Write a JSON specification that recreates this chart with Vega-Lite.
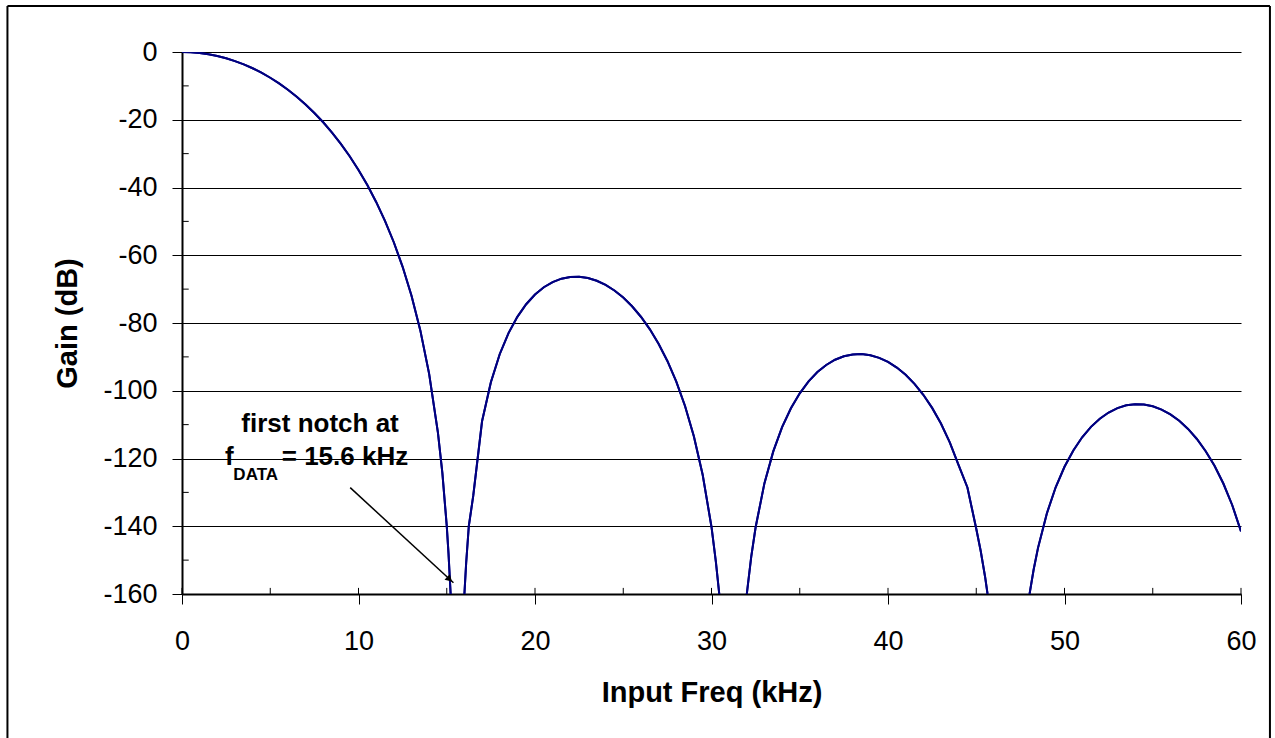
{
  "$schema": "https://vega.github.io/schema/vega-lite/v6.json",
  "width": 1059,
  "height": 542,
  "autosize": {"type": "none"},
  "padding": {"left": 182, "top": 52, "right": 34, "bottom": 144},
  "background": "white",
  "config": {
    "view": {"stroke": null},
    "font": "Liberation Sans",
    "axis": {
      "domainColor": "black",
      "domainWidth": 2,
      "tickColor": "black",
      "tickWidth": 1,
      "tickSize": 10,
      "labelColor": "black",
      "labelFont": "Liberation Sans",
      "labelFontSize": 27,
      "labelFlush": false,
      "labelOverlap": false,
      "labelBound": false,
      "titleFont": "Liberation Sans",
      "titleFontWeight": "bold",
      "titleFontSize": 29,
      "titleColor": "black"
    }
  },
  "datasets": {
    "curve": [
      {"lobe": 1, "f": 0, "g": 0}, {"lobe": 1, "f": 0.5, "g": -0.07}, {"lobe": 1, "f": 1, "g": -0.29}, {"lobe": 1, "f": 1.5, "g": -0.66},
      {"lobe": 1, "f": 2, "g": -1.18}, {"lobe": 1, "f": 2.5, "g": -1.85}, {"lobe": 1, "f": 3, "g": -2.68}, {"lobe": 1, "f": 3.5, "g": -3.66},
      {"lobe": 1, "f": 4, "g": -4.8}, {"lobe": 1, "f": 4.5, "g": -6.12}, {"lobe": 1, "f": 5, "g": -7.6}, {"lobe": 1, "f": 5.5, "g": -9.27},
      {"lobe": 1, "f": 6, "g": -11.14}, {"lobe": 1, "f": 6.5, "g": -13.2}, {"lobe": 1, "f": 7, "g": -15.48}, {"lobe": 1, "f": 7.5, "g": -17.99},
      {"lobe": 1, "f": 8, "g": -20.75}, {"lobe": 1, "f": 8.5, "g": -23.78}, {"lobe": 1, "f": 9, "g": -27.11}, {"lobe": 1, "f": 9.5, "g": -30.77},
      {"lobe": 1, "f": 10, "g": -34.81}, {"lobe": 1, "f": 10.5, "g": -39.28}, {"lobe": 1, "f": 11, "g": -44.26}, {"lobe": 1, "f": 11.5, "g": -49.84},
      {"lobe": 1, "f": 12, "g": -56.16}, {"lobe": 1, "f": 12.5, "g": -63.41}, {"lobe": 1, "f": 13, "g": -71.9}, {"lobe": 1, "f": 13.5, "g": -82.11},
      {"lobe": 1, "f": 14, "g": -94.95}, {"lobe": 1, "f": 14.5, "g": -112.35}, {"lobe": 1, "f": 14.75, "g": -124.15}, {"lobe": 1, "f": 15, "g": -139.9},
      {"lobe": 1, "f": 15.1, "g": -148.07}, {"lobe": 1, "f": 15.22, "g": -160},
      {"lobe": 2, "f": 16.0, "g": -160}, {"lobe": 2, "f": 16.1, "g": -150.86}, {"lobe": 2, "f": 16.25, "g": -139.93}, {"lobe": 2, "f": 16.5, "g": -131.06},
      {"lobe": 2, "f": 17, "g": -109.01}, {"lobe": 2, "f": 17.5, "g": -97.5}, {"lobe": 2, "f": 18, "g": -89.22}, {"lobe": 2, "f": 18.5, "g": -82.99},
      {"lobe": 2, "f": 19, "g": -78.18}, {"lobe": 2, "f": 19.5, "g": -74.46}, {"lobe": 2, "f": 20, "g": -71.6}, {"lobe": 2, "f": 20.5, "g": -69.45},
      {"lobe": 2, "f": 21, "g": -67.91}, {"lobe": 2, "f": 21.5, "g": -66.91}, {"lobe": 2, "f": 22, "g": -66.39}, {"lobe": 2, "f": 22.5, "g": -66.34},
      {"lobe": 2, "f": 23, "g": -66.72}, {"lobe": 2, "f": 23.5, "g": -67.52}, {"lobe": 2, "f": 24, "g": -68.74}, {"lobe": 2, "f": 24.5, "g": -70.39},
      {"lobe": 2, "f": 25, "g": -72.49}, {"lobe": 2, "f": 25.5, "g": -75.06}, {"lobe": 2, "f": 26, "g": -78.15}, {"lobe": 2, "f": 26.5, "g": -81.8},
      {"lobe": 2, "f": 27, "g": -86.12}, {"lobe": 2, "f": 27.5, "g": -91.21}, {"lobe": 2, "f": 28, "g": -97.25}, {"lobe": 2, "f": 28.5, "g": -104.51},
      {"lobe": 2, "f": 29, "g": -113.43}, {"lobe": 2, "f": 29.5, "g": -124.79}, {"lobe": 2, "f": 30, "g": -140.22}, {"lobe": 2, "f": 30.25, "g": -150.57},
      {"lobe": 2, "f": 30.44, "g": -160},
      {"lobe": 3, "f": 32.0, "g": -160}, {"lobe": 3, "f": 32.25, "g": -149.06}, {"lobe": 3, "f": 32.5, "g": -140.29}, {"lobe": 3, "f": 33, "g": -127.28},
      {"lobe": 3, "f": 33.5, "g": -117.9}, {"lobe": 3, "f": 34, "g": -110.76}, {"lobe": 3, "f": 34.5, "g": -105.18}, {"lobe": 3, "f": 35, "g": -100.75},
      {"lobe": 3, "f": 35.5, "g": -97.25}, {"lobe": 3, "f": 36, "g": -94.49}, {"lobe": 3, "f": 36.5, "g": -92.39}, {"lobe": 3, "f": 37, "g": -90.85},
      {"lobe": 3, "f": 37.5, "g": -89.82}, {"lobe": 3, "f": 38, "g": -89.27}, {"lobe": 3, "f": 38.5, "g": -89.17}, {"lobe": 3, "f": 39, "g": -89.51},
      {"lobe": 3, "f": 39.5, "g": -90.28}, {"lobe": 3, "f": 40, "g": -91.5}, {"lobe": 3, "f": 40.5, "g": -93.16}, {"lobe": 3, "f": 41, "g": -95.3},
      {"lobe": 3, "f": 41.5, "g": -97.96}, {"lobe": 3, "f": 42, "g": -101.19}, {"lobe": 3, "f": 42.5, "g": -105.06}, {"lobe": 3, "f": 43, "g": -109.69},
      {"lobe": 3, "f": 43.5, "g": -115.24}, {"lobe": 3, "f": 44, "g": -121.96}, {"lobe": 3, "f": 44.5, "g": -128.54}, {"lobe": 3, "f": 45, "g": -140.75},
      {"lobe": 3, "f": 45.25, "g": -147.24}, {"lobe": 3, "f": 45.5, "g": -154.9}, {"lobe": 3, "f": 45.64, "g": -160},
      {"lobe": 4, "f": 48.02, "g": -160}, {"lobe": 4, "f": 48.25, "g": -152.83}, {"lobe": 4, "f": 48.5, "g": -146.38}, {"lobe": 4, "f": 49, "g": -136.21},
      {"lobe": 4, "f": 49.5, "g": -128.49}, {"lobe": 4, "f": 50, "g": -122.43}, {"lobe": 4, "f": 50.5, "g": -117.61}, {"lobe": 4, "f": 51, "g": -113.74},
      {"lobe": 4, "f": 51.5, "g": -110.66}, {"lobe": 4, "f": 52, "g": -108.25}, {"lobe": 4, "f": 52.5, "g": -106.42}, {"lobe": 4, "f": 53, "g": -105.13},
      {"lobe": 4, "f": 53.5, "g": -104.31}, {"lobe": 4, "f": 54, "g": -103.96}, {"lobe": 4, "f": 54.5, "g": -104.05}, {"lobe": 4, "f": 55, "g": -104.58},
      {"lobe": 4, "f": 55.5, "g": -105.55}, {"lobe": 4, "f": 56, "g": -106.97}, {"lobe": 4, "f": 56.5, "g": -108.87}, {"lobe": 4, "f": 57, "g": -111.27},
      {"lobe": 4, "f": 57.5, "g": -114.24}, {"lobe": 4, "f": 58, "g": -117.84}, {"lobe": 4, "f": 58.5, "g": -122.17}, {"lobe": 4, "f": 59, "g": -127.38},
      {"lobe": 4, "f": 59.5, "g": -133.72}, {"lobe": 4, "f": 60, "g": -141.5}
    ],
    "xticks": [
      {"f": 0}, {"f": 5}, {"f": 10}, {"f": 15}, {"f": 20}, {"f": 25}, {"f": 30}, {"f": 35}, {"f": 40}, {"f": 45}, {"f": 50}, {"f": 55}, {"f": 60}
    ],
    "yticks": [
      {"g": -10}, {"g": -30}, {"g": -50}, {"g": -70}, {"g": -90}, {"g": -110}, {"g": -130}, {"g": -150}
    ],
    "frameV": [
      {"f": -9.89, "g": 13.58, "g2": -215},
      {"f": 61.64, "g": 13.58, "g2": -215}
    ],
    "frameH": [
      {"f": -9.89, "f2": 61.64, "g": 13.58}
    ],
    "arrow": [
      {"f": 9.53, "g": -128.6, "f2": 15.38, "g2": -156.7}
    ],
    "arrowhead": [
      {"f": 15.16, "g": -155.66}
    ],
    "note1": [
      {"f": 7.82, "g": -112.1, "label": "first notch at"}
    ],
    "note2": [
      {"f": 2.44, "g": -121.9, "label": "f"}
    ],
    "note3": [
      {"f": 2.91, "g": -126.3, "label": "DATA"}
    ],
    "note4": [
      {"f": 5.65, "g": -121.9, "label": "= 15.6 kHz"}
    ]
  },
  "layer": [
    {
      "data": {"name": "curve"},
      "mark": {"type": "line", "color": "#000080", "strokeWidth": 2, "clip": true},
      "encoding": {
        "x": {
          "field": "f", "type": "quantitative", "title": "Input Freq (kHz)",
          "scale": {"domain": [0, 60], "nice": false, "zero": false},
          "axis": {
            "values": [0, 10, 20, 30, 40, 50, 60],
            "labelExpr": "'' + datum.value",
            "grid": false,
            "labelPadding": 24,
            "titleY": 107.5,
            "titleBaseline": "alphabetic"
          }
        },
        "y": {
          "field": "g", "type": "quantitative", "title": "Gain (dB)",
          "scale": {"domain": [-160, 0], "nice": false, "zero": false},
          "axis": {
            "values": [-160, -140, -120, -100, -80, -60, -40, -20, 0],
            "labelExpr": "'' + datum.value",
            "grid": true,
            "gridColor": "black",
            "gridWidth": 1,
            "gridOpacity": 1,
            "labelPadding": 15,
            "titleX": -106,
            "titleY": 271,
            "titleAngle": -90,
            "titleAlign": "center",
            "titleBaseline": "alphabetic"
          }
        },
        "detail": {"field": "lobe", "type": "nominal"}
      }
    },
    {
      "mark": {"type": "rect", "color": "white", "opacity": 1},
      "encoding": {
        "x": {"datum": 1.77, "type": "quantitative"},
        "x2": {"datum": 13.86},
        "y": {"datum": -103, "type": "quantitative"},
        "y2": {"datum": -127}
      }
    },
    {
      "mark": {"type": "rule", "color": "#a0a0a0", "strokeWidth": 2},
      "encoding": {
        "x": {"datum": 0, "type": "quantitative"},
        "x2": {"datum": 60},
        "y": {"datum": 0, "type": "quantitative"}
      }
    },
    {
      "mark": {"type": "rule", "color": "#a0a0a0", "strokeWidth": 2},
      "encoding": {
        "x": {"datum": 60, "type": "quantitative"},
        "y": {"datum": 0, "type": "quantitative"},
        "y2": {"datum": -160}
      }
    },
    {
      "data": {"name": "curve"},
      "mark": {"type": "line", "color": "#000080", "strokeWidth": 2, "clip": true},
      "encoding": {
        "x": {"field": "f", "type": "quantitative", "title": "Input Freq (kHz)"},
        "y": {"field": "g", "type": "quantitative", "title": "Gain (dB)"},
        "detail": {"field": "lobe", "type": "nominal"}
      }
    },
    {
      "data": {"name": "xticks"},
      "mark": {"type": "rule", "color": "black", "strokeWidth": 1},
      "encoding": {
        "x": {"field": "f", "type": "quantitative", "title": "Input Freq (kHz)"},
        "y": {"datum": -160, "type": "quantitative"},
        "y2": {"datum": -158.2}
      }
    },
    {
      "data": {"name": "yticks"},
      "mark": {"type": "rule", "color": "black", "strokeWidth": 1},
      "encoding": {
        "y": {"field": "g", "type": "quantitative", "title": "Gain (dB)"},
        "x": {"datum": 0, "type": "quantitative"},
        "x2": {"datum": 0.38}
      }
    },
    {
      "data": {"name": "arrow"},
      "mark": {"type": "rule", "color": "black", "strokeWidth": 1.5},
      "encoding": {
        "x": {"field": "f", "type": "quantitative", "title": "Input Freq (kHz)"},
        "y": {"field": "g", "type": "quantitative", "title": "Gain (dB)"},
        "x2": {"field": "f2"},
        "y2": {"field": "g2"}
      }
    },
    {
      "data": {"name": "arrowhead"},
      "mark": {"type": "point", "shape": "triangle-right", "angle": 42.7, "filled": true, "color": "black", "size": 60, "opacity": 1},
      "encoding": {
        "x": {"field": "f", "type": "quantitative", "title": "Input Freq (kHz)"},
        "y": {"field": "g", "type": "quantitative", "title": "Gain (dB)"}
      }
    },
    {
      "data": {"name": "note1"},
      "mark": {"type": "text", "font": "Liberation Sans", "fontWeight": "bold", "fontSize": 26, "align": "center", "baseline": "alphabetic", "color": "black"},
      "encoding": {
        "x": {"field": "f", "type": "quantitative", "title": "Input Freq (kHz)"},
        "y": {"field": "g", "type": "quantitative", "title": "Gain (dB)"},
        "text": {"field": "label"}
      }
    },
    {
      "data": {"name": "note2"},
      "mark": {"type": "text", "font": "Liberation Sans", "fontWeight": "bold", "fontSize": 26, "align": "left", "baseline": "alphabetic", "color": "black"},
      "encoding": {
        "x": {"field": "f", "type": "quantitative", "title": "Input Freq (kHz)"},
        "y": {"field": "g", "type": "quantitative", "title": "Gain (dB)"},
        "text": {"field": "label"}
      }
    },
    {
      "data": {"name": "note3"},
      "mark": {"type": "text", "font": "Liberation Sans", "fontWeight": "bold", "fontSize": 17, "align": "left", "baseline": "alphabetic", "color": "black"},
      "encoding": {
        "x": {"field": "f", "type": "quantitative", "title": "Input Freq (kHz)"},
        "y": {"field": "g", "type": "quantitative", "title": "Gain (dB)"},
        "text": {"field": "label"}
      }
    },
    {
      "data": {"name": "note4"},
      "mark": {"type": "text", "font": "Liberation Sans", "fontWeight": "bold", "fontSize": 26, "align": "left", "baseline": "alphabetic", "color": "black"},
      "encoding": {
        "x": {"field": "f", "type": "quantitative", "title": "Input Freq (kHz)"},
        "y": {"field": "g", "type": "quantitative", "title": "Gain (dB)"},
        "text": {"field": "label"}
      }
    },
    {
      "data": {"name": "frameV"},
      "mark": {"type": "rule", "color": "black", "strokeWidth": 2, "clip": false},
      "encoding": {
        "x": {"field": "f", "type": "quantitative", "title": "Input Freq (kHz)"},
        "y": {"field": "g", "type": "quantitative", "title": "Gain (dB)"},
        "y2": {"field": "g2"}
      }
    },
    {
      "data": {"name": "frameH"},
      "mark": {"type": "rule", "color": "black", "strokeWidth": 2, "clip": false},
      "encoding": {
        "x": {"field": "f", "type": "quantitative", "title": "Input Freq (kHz)"},
        "x2": {"field": "f2"},
        "y": {"field": "g", "type": "quantitative", "title": "Gain (dB)"}
      }
    }
  ]
}
